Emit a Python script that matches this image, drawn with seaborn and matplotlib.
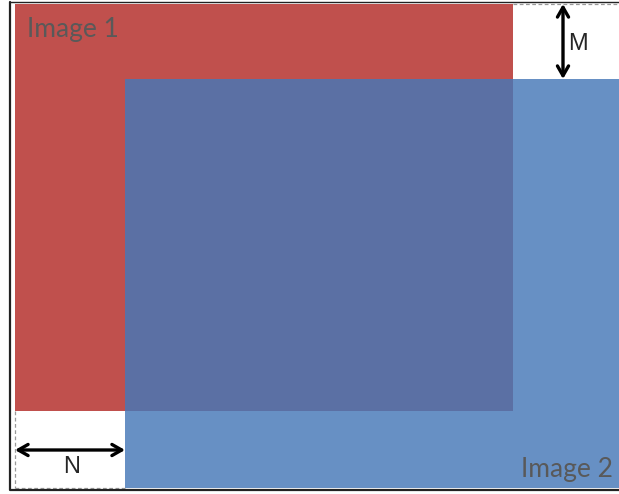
import matplotlib
matplotlib.use("Agg")
import matplotlib.pyplot as plt
import matplotlib.patches as patches
import seaborn as sns

# image boxes in pixel coordinates (x0, y0, x1, y1)
image_names = ["Image 1", "Image 2"]
image_x0 = [15, 125]
image_y0 = [4, 79]
image_x1 = [513, 640]
image_y1 = [411, 488]
image_colors = ["#C0504D", "#4678B8"]
image_alpha = [1.0, 0.825]

# offsets marked with arrows
offset_names = ["M", "N"]

sns.set_style("white")
plt.rcParams["font.family"] = ["Lato", "DejaVu Sans"]

fig = plt.figure(figsize=(6.19, 4.94), dpi=100)
ax = fig.add_axes([0, 0, 1, 1])
ax.set_xlim(0, 619)
ax.set_ylim(494, 0)
ax.axis("off")

# the two images
for i in range(2):
    ax.add_patch(patches.Rectangle(
        (image_x0[i], image_y0[i]), image_x1[i] - image_x0[i], image_y1[i] - image_y0[i],
        facecolor=image_colors[i], alpha=image_alpha[i], edgecolor="none", zorder=2 + i))

# dashed outline of the combined area
dash = dict(color="#999999", lw=0.9, ls=(0, (3, 2)), zorder=4)
ax.plot([image_x1[0], 619], [image_y0[0], image_y0[0]], **dash)
ax.plot([image_x0[0], image_x0[0]], [image_y1[0], image_y1[1]], **dash)
ax.plot([image_x0[0], image_x0[1]], [image_y1[1], image_y1[1]], **dash)

# outer frame
ax.plot([9.5, 9.5, 619], [2, 490, 490], color="#222222", lw=1.6, zorder=5)
ax.plot([9.5, 619], [2, 2], color="#222222", lw=1.0, zorder=5)

# labels
ax.text(27, 30, image_names[0], fontsize=19, color="#595959", va="center", ha="left", zorder=6)
ax.text(613, 469, image_names[1], fontsize=19, color="#595959", va="center", ha="right", zorder=6)

# arrows
arrow = dict(arrowstyle="<->,head_length=0.7,head_width=0.4", color="black", lw=2.4,
             shrinkA=0, shrinkB=0)
ax.annotate("", xy=(563, image_y0[0]), xytext=(563, image_y0[1]), arrowprops=arrow, zorder=6)
ax.annotate("", xy=(image_x0[0], 450), xytext=(image_x0[1], 450), arrowprops=arrow, zorder=6)
ax.text(568, 44, offset_names[0], fontsize=17, family=["Liberation Sans", "DejaVu Sans"],
        va="center", ha="left", zorder=6)
ax.text(72, 467, offset_names[1], fontsize=17, family=["Liberation Sans", "DejaVu Sans"],
        va="center", ha="center", zorder=6)

fig.savefig("out.png", dpi=100)
